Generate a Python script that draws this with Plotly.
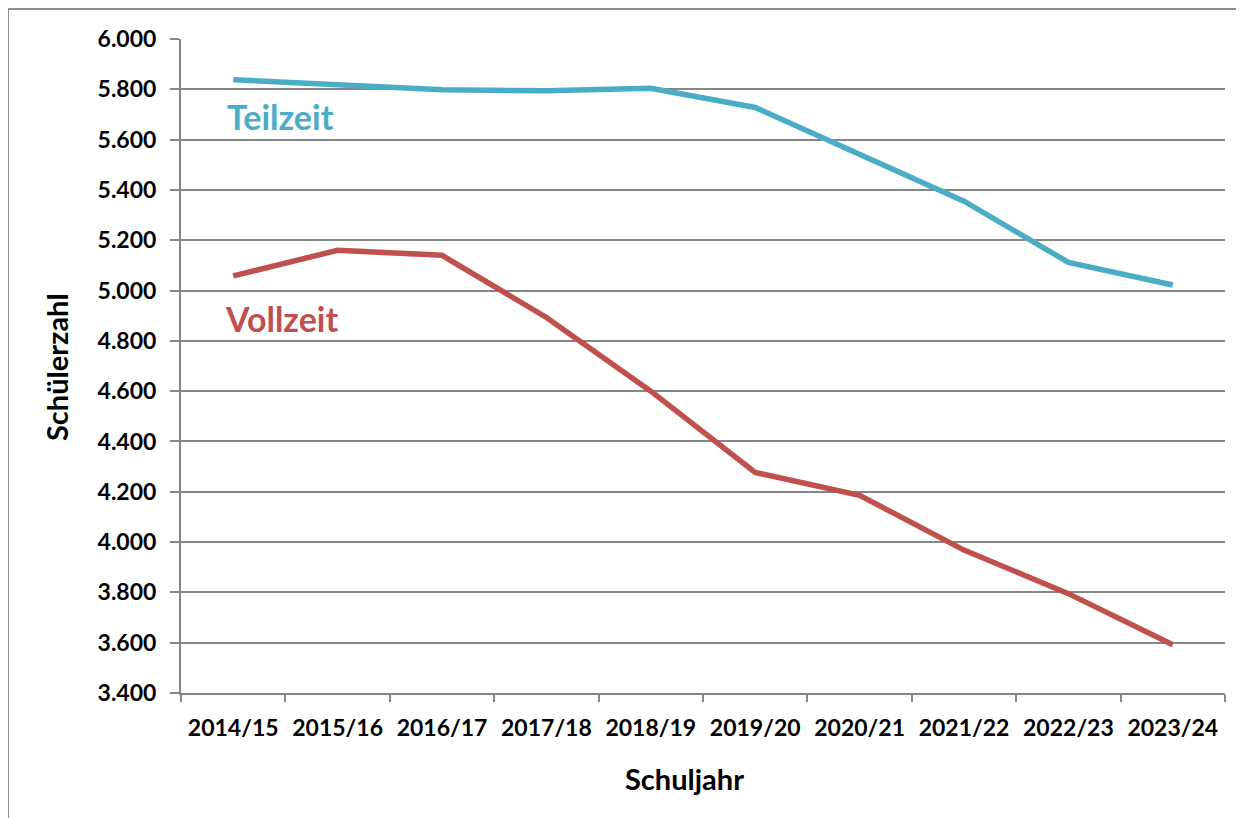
import plotly.graph_objects as go

years = ["2014/15", "2015/16", "2016/17", "2017/18", "2018/19",
         "2019/20", "2020/21", "2021/22", "2022/23", "2023/24"]
teilzeit = [5838, 5820, 5798, 5794, 5804, 5728, 5540, 5355, 5112, 5022]
vollzeit = [5058, 5160, 5140, 4893, 4600, 4277, 4186, 3968, 3795, 3592]

C_TEIL = "#4BACC6"
C_VOLL = "#C0504D"
GRID = "#868686"
FONT = "Lato"

W, H = 1244, 818
OFF = 8  # page body offset
L, T = 181 - OFF, 39 - OFF
R = W - (1225 - OFF)
B = H - (693 - OFF)
pw, ph = W - L - R, H - T - B

def px(x):
    return (x - OFF - L) / pw

def py(y):
    return (H - B - (y - OFF)) / ph

fig = go.Figure()
fig.add_trace(go.Scatter(x=years, y=teilzeit, mode="lines", name="Teilzeit",
                         line=dict(color=C_TEIL, width=5.5), showlegend=False))
fig.add_trace(go.Scatter(x=years, y=vollzeit, mode="lines", name="Vollzeit",
                         line=dict(color=C_VOLL, width=5.5), showlegend=False))

fig.update_layout(
    width=W, height=H,
    margin=dict(l=L, r=R, t=T, b=B, autoexpand=False),
    paper_bgcolor="white", plot_bgcolor="white",
    separators=",.",
    font=dict(family=FONT, color="black"),
    xaxis=dict(
        type="category", range=[-0.5, len(years) - 0.5],
        tickson="boundaries", ticks="outside", ticklen=7,
        tickcolor=GRID, tickwidth=2, showgrid=False, showline=True,
        linecolor=GRID, linewidth=2, automargin=False,
        tickfont=dict(size=23, family=FONT, weight="bold"),
        ticklabelstandoff=13,
    ),
    yaxis=dict(
        range=[3400, 6000], dtick=200, tickformat=",d",
        ticks="outside", ticklen=9, tickcolor=GRID, tickwidth=2,
        showgrid=True, gridcolor=GRID, gridwidth=2,
        showline=True, linecolor=GRID, linewidth=2,
        zeroline=False, automargin=False,
        tickfont=dict(size=23, family=FONT, weight="bold"),
        ticklabelstandoff=9,
    ),
    annotations=[
        dict(text="<b>Schülerzahl</b>", xref="paper", yref="paper",
             x=px(57), y=py(367), textangle=-90, showarrow=False,
             font=dict(size=29, family=FONT, color="black"),
             xanchor="center", yanchor="middle"),
        dict(text="<b>Schuljahr</b>", xref="paper", yref="paper",
             x=px(684), y=py(778), showarrow=False,
             font=dict(size=29, family=FONT, color="black"),
             xanchor="center", yanchor="middle"),
        dict(text="<b>Teilzeit</b>", xref="paper", yref="paper",
             x=px(225), y=py(117), showarrow=False,
             font=dict(size=34, family=FONT, color=C_TEIL),
             xanchor="left", yanchor="middle"),
        dict(text="<b>Vollzeit</b>", xref="paper", yref="paper",
             x=px(223), y=py(319), showarrow=False,
             font=dict(size=34, family=FONT, color=C_VOLL),
             xanchor="left", yanchor="middle"),
    ],
    shapes=[
        dict(type="rect", xref="paper", yref="paper",
             x0=px(8), y0=py(9), x1=px(1270), y1=py(840),
             line=dict(color="#8c8c8c", width=2), fillcolor="rgba(0,0,0,0)",
             layer="below"),
    ],
)

fig.write_html("out.html")
